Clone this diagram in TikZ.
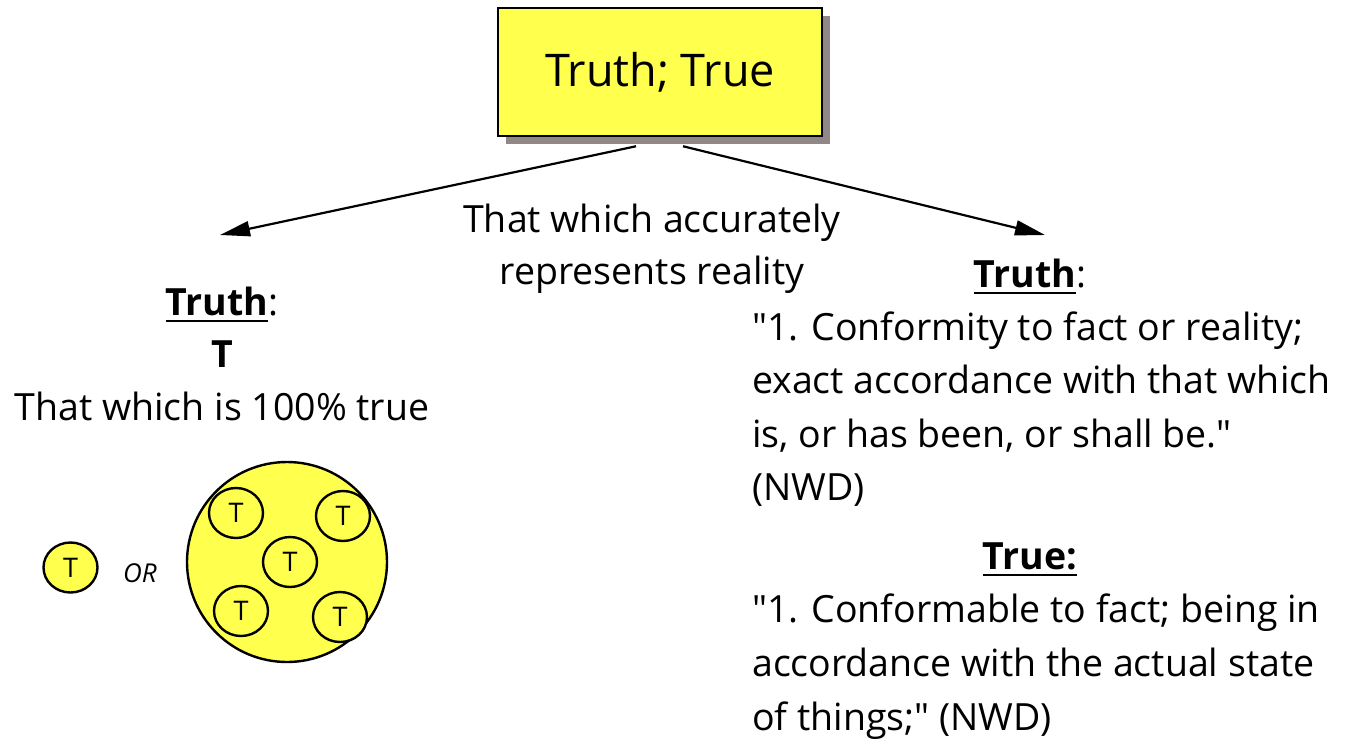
\documentclass[tikz,border=0pt]{standalone}
\usepackage{fontspec}
\setmainfont{Open Sans}
\newfontfamily\qfont{Open Sans}
\usetikzlibrary{arrows.meta,shapes.geometric,shadows}
\definecolor{yel}{RGB}{255,255,77}
\definecolor{shad}{RGB}{145,135,135}
\newsavebox{\ulbox}
\newcommand{\myul}[1]{\sbox{\ulbox}{#1}\rlap{\rule[-7pt]{\wd\ulbox}{2.5pt}}\usebox{\ulbox}}
\newcommand{\qq}{{\qfont\symbol{34}}}
\begin{document}
\begin{tikzpicture}[x=1pt,y=-1pt,
  body/.style={font=\fontsize{37.5}{44}\selectfont, inner sep=0pt},
  tc/.style={ellipse, draw, line width=2.4pt, fill=yel, minimum width=54pt, minimum height=50pt, inner sep=0pt, font=\fontsize{27}{30}\selectfont},
  arr/.style={line width=2.2pt, -{Triangle[length=30pt,width=15pt]}}]
\useasboundingbox (0,0) rectangle (1354,739);
\node[draw, fill=yel, line width=2.5pt, minimum width=324pt, minimum height=128pt,
  drop shadow={shadow xshift=8pt, shadow yshift=-8pt, fill=shad, opacity=1},
  font=\fontsize{45}{50}\selectfont] (main) at (660,72) {Truth; True};
\coordinate (ltip) at (220,235);
\coordinate (rtip) at (1045,235);
\draw[arr] ([xshift=-24pt,yshift=-9pt]main.south) -- (ltip);
\draw[arr] ([xshift=23pt,yshift=-9pt]main.south) -- (rtip);
\node[body, anchor=base] (mid1) at (652,232) {That which accurately};
\node[body, anchor=base] (mid2) at (652,284) {represents reality};
\node[body, anchor=base] (lhead) at (222,315) {\myul{\textbf{Truth}}:};
\node[body, anchor=base] (lT) at (222,367) {\textbf{T}};
\node[body, anchor=base] (ldef) at (222,420) {That which is 100\% true};
\node[body, anchor=base] (rhead) at (1030,287) {\myul{\textbf{Truth}}:};
\node[body, anchor=base west] (r1) at (752,340) {\qq1. Conformity to fact or reality;};
\node[body, anchor=base west] (r2) at (752,393) {exact accordance with that which};
\node[body, anchor=base west] (r3) at (752,447) {is, or has been, or shall be.\qq};
\node[body, anchor=base west] (r4) at (752,500) {(NWD)};
\node[body, anchor=base] (thead) at (1030,569) {\myul{\textbf{True:}}};
\node[body, anchor=base west] (s1) at (752,622) {\qq1. Conformable to fact; being in};
\node[body, anchor=base west] (s2) at (752,676) {accordance with the actual state};
\node[body, anchor=base west] (s3) at (752,730) {of things;\qq{} (NWD)};
\node[tc] (single) at (70.5,567.5) {T};
\node[font=\fontsize{26}{30}\selectfont\itshape, inner sep=0pt] (or) at (140,573) {OR};
\node[circle, draw, line width=2.4pt, fill=yel, minimum size=200pt, inner sep=0pt] (big) at (287,562) {};
\node[tc] (c1) at (236,513) {T};
\node[tc] (c2) at (343,516) {T};
\node[tc] (c3) at (290,562) {T};
\node[tc] (c4) at (241,611) {T};
\node[tc] (c5) at (340,617) {T};
\end{tikzpicture}
\end{document}
